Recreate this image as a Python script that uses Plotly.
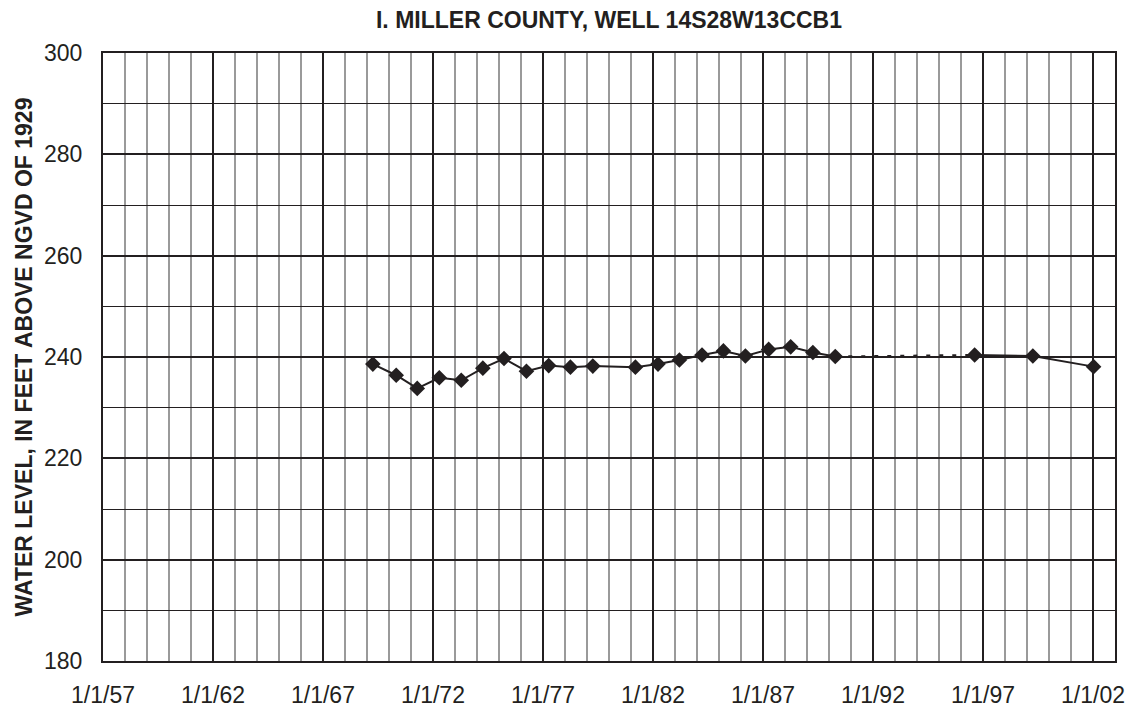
import plotly.graph_objects as go

title_text = "I. MILLER COUNTY, WELL 14S28W13CCB1"
y_title = "WATER LEVEL, IN FEET ABOVE NGVD OF 1929"

# Measured water levels (solid segment, 1969-1990)
dates_a = ["1969-04-08", "1970-05-01", "1971-04-15", "1972-04-15", "1973-04-15",
           "1974-04-08", "1975-03-25", "1976-04-01", "1977-04-05", "1978-04-01",
           "1979-04-08", "1981-03-15", "1982-03-25", "1983-03-15", "1984-03-25",
           "1985-03-15", "1986-03-15", "1987-04-05", "1988-04-05", "1989-04-08",
           "1990-04-15"]
levels_a = [238.6, 236.4, 233.8, 235.9, 235.4,
            237.8, 239.7, 237.2, 238.3, 238.0,
            238.2, 238.0, 238.6, 239.4, 240.4,
            241.2, 240.2, 241.5, 242.0, 240.9,
            240.1]

# Gap in record (dotted connection)
dates_gap = ["1990-04-15", "1996-08-15"]
levels_gap = [240.1, 240.4]

# Later measurements (solid segment)
dates_b = ["1996-08-15", "1999-04-08", "2002-01-10"]
levels_b = [240.4, 240.2, 238.1]

ink = "#231f20"

fig = go.Figure()
fig.add_trace(go.Scatter(x=dates_gap, y=levels_gap, mode="lines",
                         line=dict(color=ink, width=2, dash="4px,9px"),
                         showlegend=False, hoverinfo="skip"))
fig.add_trace(go.Scatter(x=dates_a, y=levels_a, mode="lines+markers",
                         line=dict(color=ink, width=2),
                         marker=dict(symbol="diamond", size=12, color=ink),
                         showlegend=False))
fig.add_trace(go.Scatter(x=dates_b, y=levels_b, mode="lines+markers",
                         line=dict(color=ink, width=2),
                         marker=dict(symbol="diamond", size=12, color=ink),
                         showlegend=False))

fig.update_layout(
    width=1134, height=707,
    margin=dict(l=103, r=19, t=53, b=46),
    paper_bgcolor="white", plot_bgcolor="white",
    font=dict(family="Liberation Sans, Arial, sans-serif", color=ink),
    title=dict(text="<b>" + title_text + "</b>", x=(103 + 1115) / 2 / 1134, xanchor="center",
               y=1 - 20 / 707, yanchor="middle",
               font=dict(size=23, color=ink)),
)

fig.update_xaxes(
    type="date",
    range=["1957-01-01", "2003-01-01"],
    tick0="1957-01-01", dtick="M60",
    tickformat="%-m/%-d/%y",
    showgrid=True, gridcolor=ink, gridwidth=2,
    minor=dict(dtick="M12", tick0="1957-01-01", showgrid=True,
               gridcolor="#9a9a9a", gridwidth=1.5),
    showline=True, linecolor=ink, linewidth=2, mirror=True,
    ticks="outside", ticklen=12, tickcolor="rgba(0,0,0,0)",
    tickfont=dict(size=23, color=ink),
    zeroline=False, automargin=False,
)
fig.update_yaxes(
    range=[180, 300], tick0=180, dtick=20,
    showgrid=True, gridcolor=ink, gridwidth=2,
    minor=dict(dtick=10, showgrid=True, gridcolor=ink, gridwidth=1),
    showline=True, linecolor=ink, linewidth=2, mirror=True,
    ticks="outside", ticklen=14, tickcolor="rgba(0,0,0,0)",
    tickfont=dict(size=23, color=ink),
    title=dict(text="<b>" + y_title + "</b>", font=dict(size=23, color=ink), standoff=5),
    zeroline=False, automargin=False,
)

fig.write_html("out.html", config={"displayModeBar": False},
               post_script="document.body.style.margin='0px';")
